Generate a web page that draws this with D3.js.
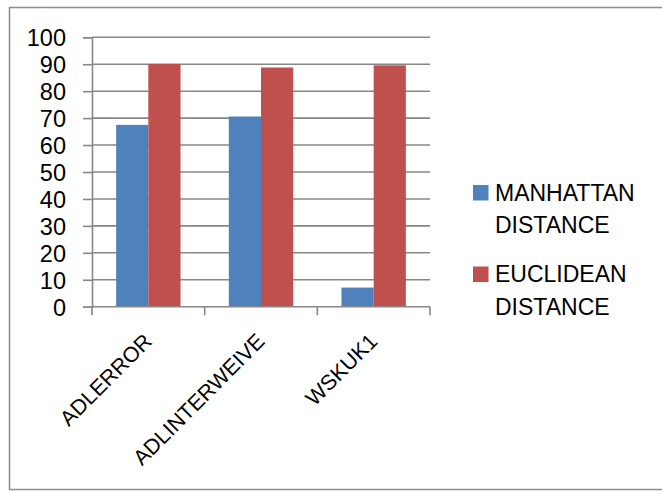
<!DOCTYPE html>
<html>
<head>
<meta charset="utf-8">
<script src="https://cdn.jsdelivr.net/npm/d3@7"></script>
<style>
  html, body { margin: 0; padding: 0; background: #fff; }
  svg { display: block; }
  text { font-family: "Liberation Sans", Arial, sans-serif; fill: #000; }
</style>
</head>
<body>
<script>
// Chart data
const categories = ["ADLERROR", "ADLINTERWEIVE", "WSKUK1"];
const seriesNames = ["MANHATTAN DISTANCE", "EUCLIDEAN DISTANCE"];
const manhattan = [67.5, 70.6, 7.1];
const euclidean = [90.1, 88.8, 89.6];
const yTicks = [0, 10, 20, 30, 40, 50, 60, 70, 80, 90, 100];
const colors = ["#4F81BD", "#C0504D"];

const W = 662, H = 491;
const plot = { left: 92, right: 430, top: 37.3, bottom: 306.7 };
const gridColor = "#878787";

const svg = d3.select("body").append("svg")
  .attr("width", W).attr("height", H);

// Outer chart frame
svg.append("rect")
  .attr("x", 9.5).attr("y", 7.5)
  .attr("width", W + 20).attr("height", 482)
  .attr("fill", "#fff")
  .attr("stroke", "#8c8c8c").attr("stroke-width", 1.5);

const x = d3.scaleBand()
  .domain(categories)
  .range([plot.left, plot.right])
  .paddingInner(0).paddingOuter(0);

const y = d3.scaleLinear()
  .domain([0, 100])
  .range([plot.bottom, plot.top]);

// Horizontal gridlines
svg.append("g")
  .selectAll("line")
  .data(yTicks.filter(d => d > 0))
  .join("line")
  .attr("x1", plot.left).attr("x2", plot.right)
  .attr("y1", d => y(d)).attr("y2", d => y(d))
  .attr("stroke", gridColor).attr("stroke-width", 1.6);

// Bars: the pair fills 64/112.7 of each band (gap width 150%)
const inner = d3.scaleBand()
  .domain([0, 1])
  .range([0, x.bandwidth()])
  .paddingOuter(0.75)
  .paddingInner(0);

const series = [manhattan, euclidean];
series.forEach((vals, si) => {
  svg.append("g")
    .selectAll("rect")
    .data(categories)
    .join("rect")
    .attr("x", (c) => x(c) + inner(si))
    .attr("width", inner.bandwidth())
    .attr("y", (c, i) => y(vals[i]))
    .attr("height", (c, i) => y(0) - y(vals[i]))
    .attr("fill", colors[si]);
});

// Y axis
const yAxis = d3.axisLeft(y)
  .tickValues(yTicks)
  .tickSize(9)
  .tickPadding(17)
  .tickFormat(d3.format("d"));

const gy = svg.append("g")
  .attr("transform", `translate(${plot.left},0)`)
  .call(yAxis);
gy.select(".domain").attr("stroke", gridColor).attr("stroke-width", 1.6);
gy.selectAll(".tick line").attr("stroke", gridColor).attr("stroke-width", 1.6);
gy.selectAll(".tick text")
  .style("font-family", "'Liberation Sans', Arial, sans-serif")
  .attr("font-size", 23.5)
  .attr("dy", "0.36em");

// X axis with ticks at band edges
const gx = svg.append("g")
  .attr("transform", `translate(0,${plot.bottom})`);
gx.append("line")
  .attr("x1", plot.left).attr("x2", plot.right)
  .attr("stroke", gridColor).attr("stroke-width", 1.6);
const edges = categories.map(c => x(c)).concat([x(categories[categories.length - 1]) + x.bandwidth()]);
gx.selectAll("line.edge")
  .data(edges)
  .join("line")
  .attr("class", "edge")
  .attr("x1", d => d).attr("x2", d => d)
  .attr("y1", 0).attr("y2", 8.5)
  .attr("stroke", gridColor).attr("stroke-width", 1.6);

gx.selectAll("text.cat")
  .data(categories)
  .join("text")
  .attr("class", "cat")
  .attr("text-anchor", "end")
  .attr("font-size", 21.5)
  .attr("transform", c => `translate(${x(c) + x.bandwidth() / 2 + 5},36) rotate(-45)`)
  .text(c => c);

// Legend
const legend = svg.append("g");
const legendLines = [["MANHATTAN", "DISTANCE"], ["EUCLIDEAN", "DISTANCE"]];
const legendTop = [185, 266.5];
seriesNames.forEach((name, i) => {
  const g = legend.append("g").attr("transform", `translate(473,${legendTop[i]})`);
  g.append("rect")
    .attr("width", 15.5).attr("height", 15.5)
    .attr("fill", colors[i]);
  g.append("text")
    .attr("x", 22)
    .attr("y", 15.7)
    .attr("font-size", 23)
    .selectAll("tspan")
    .data(legendLines[i])
    .join("tspan")
    .attr("x", 22)
    .attr("dy", (d, j) => j === 0 ? 0 : 32.5)
    .text(d => d);
});
</script>
</body>
</html>
